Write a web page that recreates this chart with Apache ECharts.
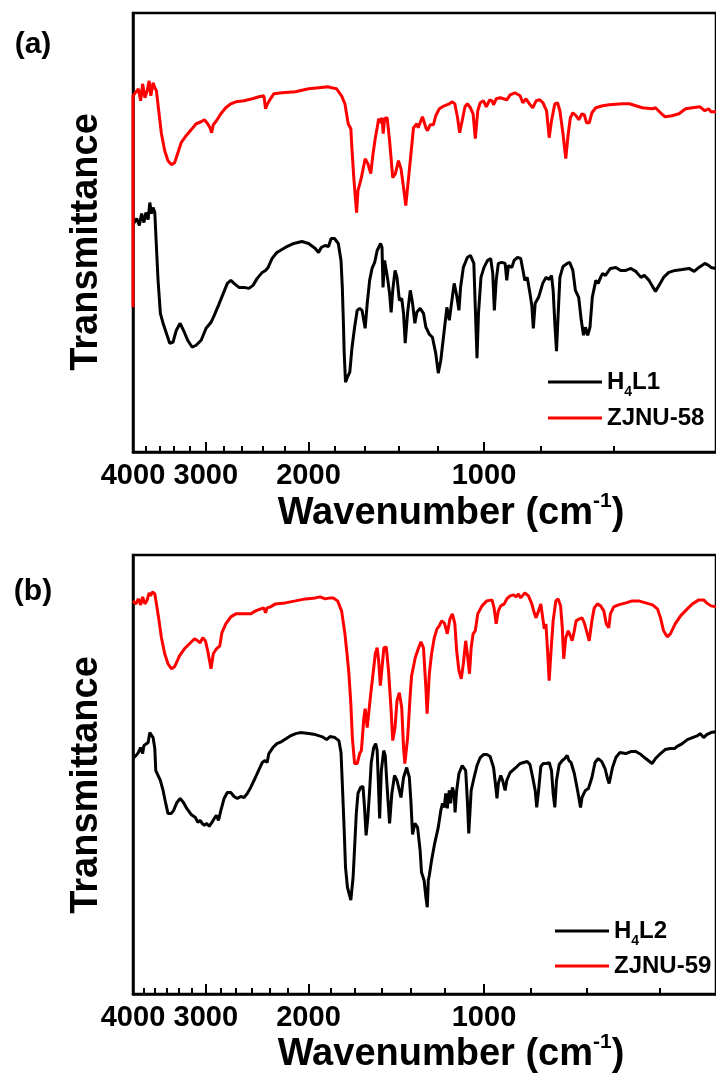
<!DOCTYPE html>
<html>
<head>
<meta charset="utf-8">
<script src="https://cdn.jsdelivr.net/npm/echarts@6/dist/echarts.min.js"></script>
<style>
html,body{margin:0;padding:0;background:#fff;}
#chart{width:716px;height:1079px;}
</style>
</head>
<body>
<div id="chart"></div>
<script>
// ---------- data: [wavenumber (cm-1), transmittance (a.u.)] ----------
const H4L1 = [[4000,228],[3984,230],[3942,234],[3901,227],[3866,239],[3831,230],[3801,240],[3768,233],[3743,250],[3718,239],[3695,245],[3670,240],[3646,205],[3623,172],[3590,139],[3552,129],[3506,119],[3460,109],[3416,110],[3371,122],[3320,129],[3277,122],[3223,112],[3166,105],[3117,107],[3056,112],[2997,124],[2939,130],[2902,137],[2854,147],[2809,157],[2756,169],[2718,172],[2684,169],[2632,165],[2580,165],[2530,164],[2490,167],[2449,174],[2401,180],[2370,182],[2346,185],[2309,194],[2266,200],[2192,205],[2120,209],[2053,211],[1999,209],[1947,204],[1922,200],[1902,205],[1873,207],[1848,206],[1829,214],[1805,214],[1778,209],[1759,192],[1750,165],[1743,132],[1737,99],[1728,70],[1715,75],[1699,80],[1684,105],[1667,125],[1650,142],[1634,144],[1619,142],[1607,144],[1599,124],[1586,149],[1571,172],[1556,184],[1540,190],[1525,202],[1504,209],[1496,205],[1490,165],[1481,192],[1471,182],[1462,172],[1452,159],[1443,140],[1434,162],[1421,182],[1410,175],[1397,152],[1384,154],[1374,139],[1365,109],[1352,140],[1338,162],[1326,149],[1314,129],[1304,140],[1287,144],[1270,139],[1258,125],[1250,122],[1241,118],[1226,115],[1210,99],[1198,79],[1186,92],[1170,122],[1158,145],[1147,132],[1137,149],[1125,169],[1114,157],[1104,142],[1097,165],[1085,185],[1068,195],[1055,197],[1041,189],[1035,145],[1028,94],[1022,139],[1012,175],[1000,185],[986,192],[974,194],[966,179],[960,142],[953,172],[945,189],[932,190],[920,189],[914,172],[908,187],[896,185],[888,192],[876,195],[865,194],[858,183],[851,172],[843,175],[834,159],[828,147],[823,124],[817,149],[806,155],[793,169],[783,175],[773,173],[766,177],[761,162],[756,129],[751,101],[746,139],[741,175],[732,186],[720,189],[713,190],[704,182],[697,162],[688,155],[681,132],[675,117],[670,125],[664,117],[658,125],[652,155],[643,172],[637,169],[631,175],[626,179],[619,177],[607,184],[594,185],[583,182],[571,182],[560,184],[549,181],[538,175],[531,177],[521,172],[514,166],[508,161],[501,167],[492,175],[482,180],[470,182],[457,183],[445,184],[436,181],[428,185],[418,189],[412,187],[408,185],[400,184]];

const ZJNU58 = [[4000,145],[4000,357],[3969,359],[3917,364],[3881,352],[3851,369],[3816,355],[3782,362],[3753,372],[3728,357],[3695,370],[3670,365],[3646,362],[3609,339],[3575,319],[3529,302],[3484,292],[3438,288],[3394,290],[3350,300],[3307,310],[3243,317],[3158,325],[3117,329],[3056,331],[3017,333],[2978,329],[2951,325],[2932,320],[2913,328],[2877,332],[2827,339],[2773,345],[2718,349],[2665,351],[2580,352],[2497,354],[2432,356],[2385,357],[2370,344],[2351,349],[2324,354],[2294,359],[2220,360],[2106,361],[1999,364],[1922,365],[1848,366],[1825,365],[1790,364],[1755,357],[1732,349],[1721,339],[1710,329],[1692,324],[1684,302],[1671,272],[1654,240],[1645,262],[1623,275],[1599,294],[1582,289],[1564,279],[1550,299],[1536,315],[1525,325],[1516,334],[1504,330],[1496,335],[1489,319],[1481,334],[1466,335],[1452,312],[1434,275],[1419,279],[1402,292],[1388,284],[1374,265],[1362,247],[1338,292],[1321,325],[1304,329],[1297,325],[1275,336],[1258,325],[1250,322],[1237,328],[1221,328],[1210,337],[1193,344],[1170,347],[1147,349],[1133,351],[1122,349],[1110,335],[1101,320],[1090,332],[1078,346],[1068,349],[1055,345],[1044,339],[1035,314],[1025,342],[1015,350],[1002,352],[991,346],[978,353],[969,352],[963,348],[953,354],[938,355],[926,354],[914,353],[902,358],[885,360],[867,357],[858,350],[847,354],[836,349],[825,345],[814,352],[802,353],[792,350],[781,342],[773,315],[766,332],[756,349],[748,350],[741,342],[732,319],[724,294],[717,319],[711,335],[704,340],[695,337],[688,333],[679,339],[673,338],[667,330],[660,330],[653,340],[643,345],[626,347],[610,348],[579,349],[563,349],[549,347],[535,345],[514,344],[508,345],[498,340],[489,336],[476,337],[463,339],[451,344],[439,345],[426,346],[418,342],[412,344],[408,341],[400,341]];

const H4L2 = [[4000,236],[3953,239],[3917,242],[3881,247],[3851,241],[3831,249],[3801,247],[3768,252],[3743,262],[3718,261],[3695,257],[3670,246],[3656,224],[3623,219],[3590,214],[3552,204],[3515,191],[3484,181],[3438,181],[3407,184],[3363,192],[3320,196],[3277,192],[3235,186],[3180,180],[3126,177],[3097,172],[3068,174],[3044,171],[3017,169],[2990,171],[2960,168],[2929,172],[2902,176],[2877,179],[2854,174],[2827,184],[2791,196],[2756,202],[2718,202],[2684,198],[2649,196],[2614,198],[2580,197],[2547,201],[2513,207],[2471,216],[2432,225],[2401,232],[2375,234],[2355,232],[2339,241],[2302,247],[2266,251],[2224,253],[2183,256],[2143,259],[2104,261],[2065,262],[1999,261],[1947,260],[1898,258],[1862,255],[1837,258],[1802,257],[1774,254],[1759,242],[1750,211],[1737,164],[1728,127],[1715,107],[1692,94],[1677,117],[1667,147],[1656,181],[1645,201],[1628,207],[1613,208],[1603,187],[1593,159],[1582,177],[1571,204],[1561,232],[1546,247],[1534,251],[1525,244],[1516,204],[1510,176],[1500,224],[1486,244],[1477,239],[1466,207],[1452,171],[1439,201],[1424,219],[1410,214],[1397,204],[1388,197],[1374,217],[1357,227],[1343,217],[1335,194],[1326,160],[1314,171],[1300,167],[1287,144],[1280,122],[1267,114],[1258,97],[1251,87],[1246,114],[1241,119],[1230,134],[1215,151],[1198,167],[1186,184],[1178,191],[1170,187],[1163,201],[1156,186],[1147,204],[1141,191],[1133,207],[1125,201],[1121,182],[1114,204],[1104,221],[1090,229],[1075,224],[1068,194],[1062,161],[1052,204],[1041,216],[1028,229],[1015,237],[1002,240],[989,240],[976,238],[963,227],[956,211],[950,196],[945,211],[936,219],[929,214],[920,204],[914,214],[902,222],[890,225],[878,228],[867,231],[855,232],[843,233],[834,230],[825,217],[817,204],[812,187],[806,204],[799,228],[792,231],[781,231],[773,232],[766,224],[761,201],[756,187],[751,214],[743,230],[734,234],[727,236],[720,239],[715,234],[709,232],[700,221],[691,204],[683,187],[679,197],[670,204],[662,206],[653,217],[645,232],[637,236],[628,233],[620,226],[614,216],[610,211],[602,227],[594,237],[585,242],[571,241],[560,243],[549,243],[538,240],[528,236],[515,231],[508,236],[498,241],[489,245],[479,246],[471,246],[467,248],[457,251],[448,255],[439,257],[430,259],[426,261],[420,257],[415,260],[408,262],[400,263]];

const ZJNU59 = [[4000,394],[3953,391],[3917,396],[3881,390],[3851,398],[3816,391],[3782,395],[3753,402],[3733,399],[3704,403],[3670,401],[3646,391],[3609,374],[3575,357],[3529,341],[3484,331],[3438,326],[3394,328],[3329,339],[3265,346],[3200,351],[3137,356],[3097,354],[3068,352],[3037,357],[3005,354],[2978,344],[2939,326],[2913,341],[2877,346],[2839,349],[2816,362],[2773,371],[2718,378],[2665,381],[2580,381],[2513,381],[2464,384],[2416,386],[2385,387],[2370,382],[2355,387],[2324,388],[2279,391],[2192,392],[2106,394],[2025,396],[1947,397],[1910,398],[1873,396],[1837,397],[1813,397],[1783,394],[1755,384],[1732,361],[1715,337],[1705,321],[1692,291],[1682,257],[1667,231],[1650,231],[1634,241],[1623,244],[1607,277],[1599,286],[1586,267],[1577,281],[1564,301],[1550,321],[1536,341],[1525,347],[1516,334],[1506,309],[1496,327],[1485,347],[1471,348],[1458,324],[1443,284],[1434,254],[1421,267],[1410,294],[1397,302],[1384,287],[1374,247],[1367,231],[1352,257],[1338,301],[1331,319],[1321,321],[1312,337],[1300,344],[1283,353],[1270,347],[1258,307],[1252,281],[1241,321],[1230,341],[1217,357],[1204,366],[1193,369],[1182,374],[1170,372],[1163,367],[1156,361],[1144,376],[1133,381],[1122,371],[1114,344],[1104,324],[1094,316],[1085,331],[1075,354],[1068,341],[1059,321],[1052,347],[1044,361],[1035,364],[1025,381],[1008,389],[989,394],[969,395],[961,387],[953,371],[945,384],[936,389],[923,391],[914,396],[902,399],[890,400],[881,398],[873,401],[865,397],[851,402],[839,399],[828,391],[820,382],[814,377],[806,384],[799,391],[793,377],[788,366],[783,371],[778,344],[773,314],[768,341],[761,374],[753,394],[746,396],[739,389],[734,367],[730,336],[724,357],[717,364],[711,359],[706,354],[700,364],[695,374],[686,376],[679,377],[673,372],[667,364],[660,354],[653,374],[647,387],[639,391],[631,389],[623,384],[617,371],[611,367],[607,381],[599,388],[588,390],[571,392],[557,394],[543,394],[528,392],[514,390],[504,386],[498,377],[492,364],[485,358],[479,361],[470,371],[460,379],[448,386],[439,391],[428,395],[420,395],[415,392],[408,389],[400,388]];

// ---------- axis ticks / labels ----------
const xLabels = [4000, 3000, 2000, 1000];
const majorTicks = [3000, 2000, 1000];
const minorTicksA = [3800, 3600, 3400, 3200, 2800, 2600, 2400, 2200, 1800, 1600, 1400, 1200, 800, 600];
const minorTicksB = [3833, 3667, 3500, 3333, 3167, 2833, 2667, 2500, 2333, 2167, 1833, 1667, 1500, 1333, 1167, 833, 667, 500];

const FONT = '"Liberation Sans", Arial, Helvetica, sans-serif';

function majorAxis(gi) {
  return {
    type: 'log', logBase: 10, min: 400, max: 4000, inverse: true, gridIndex: gi, position: 'bottom',
    axisLine: { show: true, lineStyle: { color: '#000', width: 2.5 } },
    axisTick: { show: true, inside: true, length: 10, customValues: majorTicks, lineStyle: { color: '#000', width: 2 } },
    axisLabel: { show: true, customValues: xLabels, margin: 9, color: '#000', fontFamily: FONT, fontWeight: 'bold', fontSize: 29,
      formatter: v => String(Math.round(v)) },
    splitLine: { show: false }, minorTick: { show: false }
  };
}
function minorAxis(gi, ticks) {
  return {
    type: 'log', logBase: 10, min: 400, max: 4000, inverse: true, gridIndex: gi, position: 'bottom', offset: 0,
    axisLine: { show: false },
    axisTick: { show: true, inside: true, length: 6, customValues: ticks, lineStyle: { color: '#000', width: 2 } },
    axisLabel: { show: false },
    splitLine: { show: false }
  };
}
function yAx(gi) {
  return {
    type: 'value', min: 0, max: 440, gridIndex: gi,
    axisLine: { show: true, lineStyle: { color: '#000', width: 2.5 } },
    axisTick: { show: false }, axisLabel: { show: false }, splitLine: { show: false }
  };
}
function legendCfg(left, top, gap, names) {
  return {
    orient: 'vertical', left: left, top: top, itemGap: gap, itemWidth: 54, itemHeight: 3, icon: 'rect',
    selectedMode: false, data: names,
    formatter: n => n.indexOf('H4') === 0 ? '{m|H}{s|4}{m|' + n.slice(2) + '}' : '{m|' + n + '}',
    textStyle: {
      color: '#000',
      rich: {
        m: { fontFamily: FONT, fontWeight: 'bold', fontSize: 24, lineHeight: 34, color: '#000' },
        s: { fontFamily: FONT, fontWeight: 'bold', fontSize: 14, lineHeight: 8, verticalAlign: 'bottom', color: '#000' }
      }
    }
  };
}
function lineSeries(name, data, color, ai) {
  return { name: name, type: 'line', data: data, xAxisIndex: ai * 2, yAxisIndex: ai, showSymbol: false, symbol: 'none',
    lineStyle: { color: color, width: 3 }, itemStyle: { color: color }, animation: false };
}
function titleText(x, y, txt, size, rot) {
  return { type: 'text', x: x, y: y, rotation: rot || 0,
    style: { text: txt, fill: '#000', fontFamily: FONT, fontWeight: 'bold', fontSize: size,
      align: 'center', verticalAlign: 'middle', textAlign: 'center', textVerticalAlign: 'middle' } };
}
function xTitle(x, y) {
  return { type: 'text', x: x, y: y,
    style: { text: '{w|Wavenumber (cm}{p|-1}{w|)}', fill: '#000', align: 'center', verticalAlign: 'middle',
      textAlign: 'center', textVerticalAlign: 'middle',
      rich: {
        w: { fontFamily: FONT, fontWeight: 'bold', fontSize: 38, lineHeight: 42, verticalAlign: 'bottom', fill: '#000', color: '#000' },
        p: { fontFamily: FONT, fontWeight: 'bold', fontSize: 21, lineHeight: 22, verticalAlign: 'top', fill: '#000', color: '#000' }
      } } };
}

const chart = echarts.init(document.getElementById('chart'), null, { renderer: 'canvas' });
chart.setOption({
  animation: false,
  backgroundColor: '#fff',
  grid: [
    { left: 133, right: -5, top: 13, height: 439, show: true, borderColor: '#000', borderWidth: 2.5 },
    { left: 133, right: -5, top: 555, height: 439, show: true, borderColor: '#000', borderWidth: 2.5 }
  ],
  xAxis: [majorAxis(0), minorAxis(0, minorTicksA), majorAxis(1), minorAxis(1, minorTicksB)],
  yAxis: [yAx(0), yAx(1)],
  legend: [
    legendCfg(543, 365, 7, ['H4L1', 'ZJNU-58']),
    legendCfg(550, 914, 6, ['H4L2', 'ZJNU-59'])
  ],
  series: [
    lineSeries('H4L1', H4L1, '#000000', 0),
    lineSeries('ZJNU-58', ZJNU58, '#ff0000', 0),
    lineSeries('H4L2', H4L2, '#000000', 1),
    lineSeries('ZJNU-59', ZJNU59, '#ff0000', 1)
  ],
  graphic: [
    titleText(33, 45, '(a)', 30),
    titleText(33, 592, '(b)', 30),
    titleText(87, 242, 'Transmittance', 38, Math.PI / 2),
    titleText(87, 785, 'Transmittance', 38, Math.PI / 2),
    xTitle(451, 512),
    xTitle(451, 1053)
  ]
});
</script>
</body>
</html>
